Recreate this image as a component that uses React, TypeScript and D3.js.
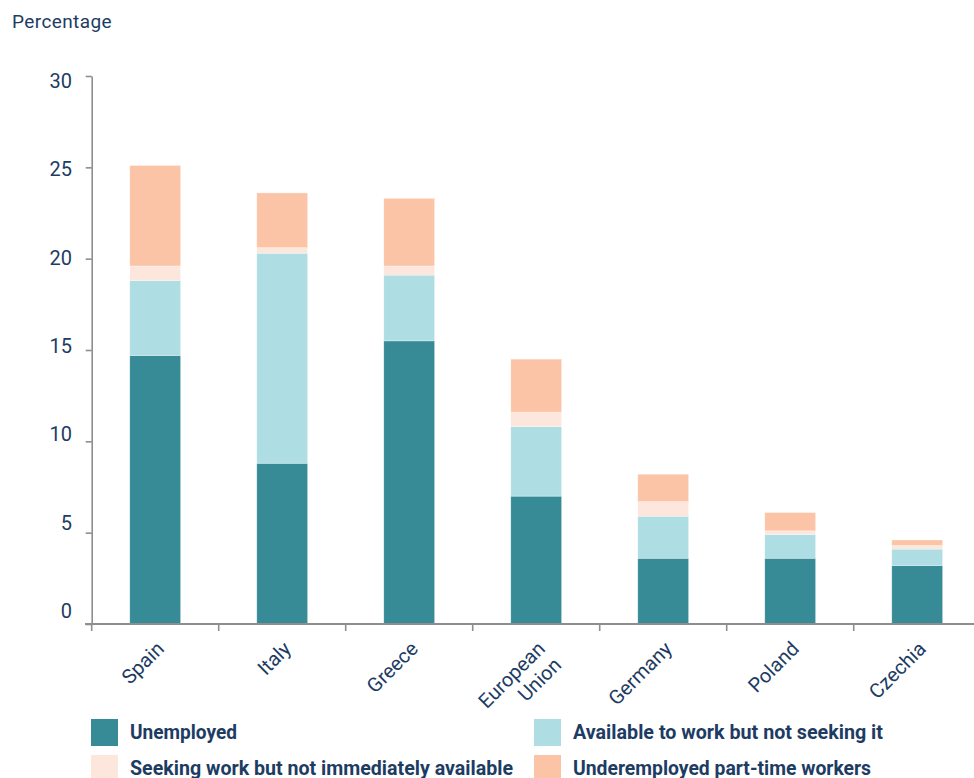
import { useEffect, useRef } from 'react'
import * as d3 from 'd3'

const countries = ['Spain', 'Italy', 'Greece', 'European Union', 'Germany', 'Poland', 'Czechia']
const unemployed = [14.7, 8.8, 15.5, 7.0, 3.6, 3.6, 3.2]
const availableNotSeeking = [4.1, 11.5, 3.6, 3.8, 2.3, 1.3, 0.9]
const seekingNotAvailable = [0.8, 0.3, 0.5, 0.8, 0.8, 0.2, 0.2]
const underemployed = [5.5, 3.0, 3.7, 2.9, 1.5, 1.0, 0.3]
const yTicks = [0, 5, 10, 15, 20, 25, 30]

const seriesNames = [
  'Unemployed',
  'Available to work but not seeking it',
  'Seeking work but not immediately available',
  'Underemployed part-time workers',
]
const seriesKeys = ['u', 'a', 's', 'p']
const colors = ['#368b96', '#aedee3', '#fde6dc', '#fbc4a6']

const W = 974, H = 778
const NAVY = '#1d3c63'
const AXIS = '#8e8e8e'

export default function App() {
  const svgRef = useRef<SVGSVGElement>(null)

  useEffect(() => {
    const svg = svgRef.current
    if (!svg) return
    const sel = d3.select(svg)
    sel.selectAll('*').remove()
    sel.attr('viewBox', `0 0 ${W} ${H}`)

    const rows = countries.map((c, i) => ({
      c, u: unemployed[i], a: availableNotSeeking[i], s: seekingNotAvailable[i], p: underemployed[i],
    }))

    const x0 = 91.7, step = 127
    const x = d3.scaleBand<string>().domain(countries)
      .range([x0, x0 + step * countries.length])
      .paddingInner(0.6).paddingOuter(0.3)
    const y = d3.scaleLinear().domain([0, 30]).range([624, 76])
    // tick labels sit slightly off their ticks in the original
    const yLab = d3.scaleLinear().domain([0, 30]).range([611, 81])

    const font = 'Roboto, "Noto Sans", sans-serif'

    // 제목
    sel.append('text')
      .attr('x', 12).attr('y', 28)
      .attr('fill', NAVY).attr('font-family', font).attr('font-size', 19)
      .attr('letter-spacing', 0.4)
      .text('Percentage')

    // 막대
    const stack = d3.stack<any>().keys(seriesKeys)(rows)
    stack.forEach((layer, li) => {
      sel.append('g').selectAll('rect').data(layer).join('rect')
        .attr('x', d => x(d.data.c)!)
        .attr('width', x.bandwidth())
        .attr('y', d => y(d[1]))
        .attr('height', d => y(d[0]) - y(d[1]))
        .attr('fill', colors[li])
        .attr('stroke', '#fff').attr('stroke-width', 0.6).attr('stroke-opacity', 0.5)
    })

    // y축
    sel.append('g')
      .attr('transform', `translate(${x0},0)`)
      .call(d3.axisLeft(y).tickValues(yTicks).tickSize(6).tickSizeOuter(0).tickFormat(() => ''))
      .call(ag => {
        ag.select('.domain').attr('stroke', AXIS).attr('stroke-width', 1.6)
        ag.selectAll('line').attr('stroke', AXIS).attr('stroke-width', 1.6)
      })

    sel.append('g').selectAll('text').data(yTicks).join('text')
      .attr('x', 72).attr('y', d => yLab(d))
      .attr('text-anchor', 'end').attr('dominant-baseline', 'central')
      .attr('fill', NAVY).attr('font-family', font).attr('font-size', 20)
      .text(d => d)

    // x축
    sel.append('line')
      .attr('x1', 85).attr('x2', W).attr('y1', y(0)).attr('y2', y(0))
      .attr('stroke', AXIS).attr('stroke-width', 1.8)
    sel.append('g').selectAll('line').data(d3.range(countries.length + 1)).join('line')
      .attr('x1', i => x0 + i * x.step()).attr('x2', i => x0 + i * x.step())
      .attr('y1', y(0)).attr('y2', y(0) + 7)
      .attr('stroke', AXIS).attr('stroke-width', 1.6)

    const xl = sel.append('g').selectAll('text').data(countries).join('text')
      .attr('transform', d => `translate(${x(d)! + x.bandwidth() / 2 + 10},650) rotate(-45)`)
      .attr('text-anchor', 'end')
      .attr('fill', NAVY).attr('font-family', font).attr('font-size', 20)
    xl.each(function (d) {
      const parts = d === 'European Union' ? ['European', 'Union'] : [d]
      parts.forEach((p, i) => {
        d3.select(this).append('tspan').attr('x', 0).attr('dy', i === 0 ? 0 : '1.15em').text(p)
      })
    })

    // 범례
    const legendPos = [
      { x: 91, y: 719, w: 107 },
      { x: 534, y: 719, w: 310 },
      { x: 91, y: 755, w: 383 },
      { x: 534, y: 755, w: 298 },
    ]
    seriesNames.forEach((name, i) => {
      const p = legendPos[i]
      sel.append('rect')
        .attr('x', p.x).attr('y', p.y).attr('width', 27).attr('height', 27)
        .attr('fill', colors[i])
      sel.append('text')
        .attr('x', p.x + 39).attr('y', p.y + 20)
        .attr('fill', NAVY).attr('font-family', font).attr('font-size', 21).attr('font-weight', 700)
        .attr('textLength', p.w).attr('lengthAdjust', 'spacingAndGlyphs')
        .text(name)
    })
  }, [])

  return (
    <svg
      ref={svgRef}
      width={W}
      height={H}
      style={{ position: 'fixed', left: 0, top: 0, display: 'block', background: '#fff' }}
    />
  )
}
